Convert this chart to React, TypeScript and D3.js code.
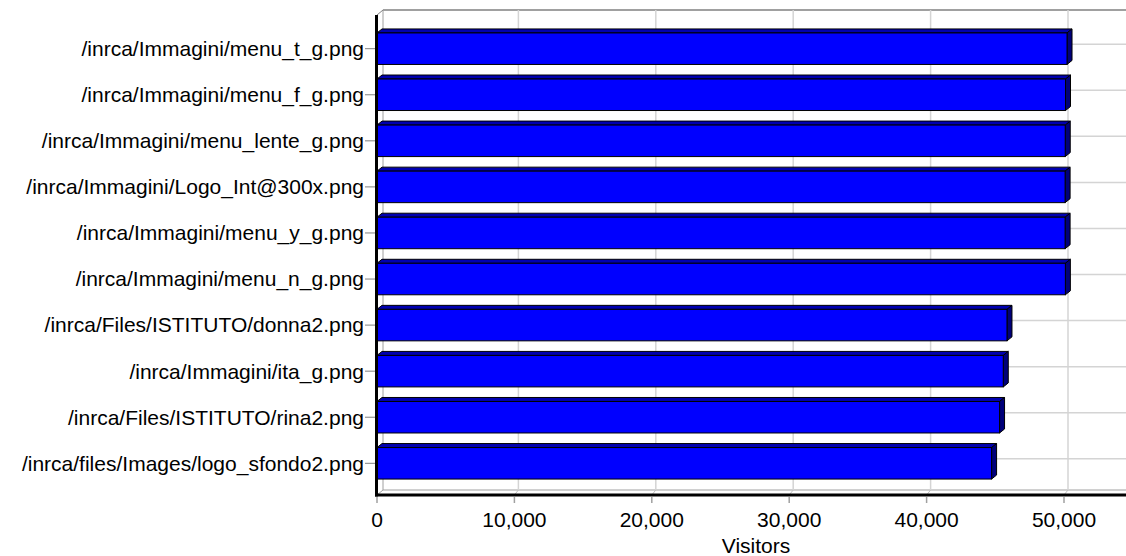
import React from "react";
import * as d3 from "d3";

const categories: string[] = [
  "/inrca/Immagini/menu_t_g.png",
  "/inrca/Immagini/menu_f_g.png",
  "/inrca/Immagini/menu_lente_g.png",
  "/inrca/Immagini/Logo_Int@300x.png",
  "/inrca/Immagini/menu_y_g.png",
  "/inrca/Immagini/menu_n_g.png",
  "/inrca/Files/ISTITUTO/donna2.png",
  "/inrca/Immagini/ita_g.png",
  "/inrca/Files/ISTITUTO/rina2.png",
  "/inrca/files/Images/logo_sfondo2.png",
];
const visitors: number[] = [50220, 50110, 50090, 50080, 50080, 50100, 45850, 45580, 45310, 44730];
const xTicks: number[] = [0, 10000, 20000, 30000, 40000, 50000];
const xTitle = "Visitors";

const W = 1126;
const H = 556;
const FONT = "Arial, 'Liberation Sans', sans-serif";

export default function App() {
  const x0 = 377;
  const x = d3.scaleLinear().domain([0, 50000]).range([x0, 1064]);
  const y = d3.scalePoint<string>().domain(categories).range([48.7, 463.3]).padding(0);
  const fmt = d3.format(",");

  const wallDx = 6, wallDy = 5;
  const wallTop = 10, axisY = 495;
  const backLeft = x0 + wallDx;
  const backBottom = axisY - wallDy;
  const gdx = 4, gdy = 4.5;
  const barH = 31.5, bdx = 5, bdy = 4;
  const fs = 21;

  return (
    <svg width={W} height={H} style={{ position: "absolute", left: 0, top: 0, background: "#fff" }} fontFamily={FONT}>
      {/* back wall */}
      <line x1={backLeft} y1={wallTop} x2={W} y2={wallTop} stroke="#808080" strokeWidth={1.5} />
      <line x1={backLeft} y1={wallTop} x2={backLeft} y2={backBottom} stroke="#a0a0a0" strokeWidth={1} />
      <line x1={backLeft} y1={backBottom} x2={W} y2={backBottom} stroke="#a0a0a0" strokeWidth={1} />
      <line x1={x0} y1={wallTop + wallDy} x2={backLeft} y2={wallTop} stroke="#808080" strokeWidth={1} />
      <line x1={x0} y1={axisY} x2={backLeft} y2={backBottom} stroke="#a0a0a0" strokeWidth={1} />
      {/* vertical grid */}
      {xTicks.filter((t) => t > 0).map((t) => (
        <g key={"vg" + t}>
          <line x1={x(t) + gdx} y1={wallTop} x2={x(t) + gdx} y2={backBottom} stroke="#d4d4d4" strokeWidth={1.5} />
          <line x1={x(t) + gdx} y1={backBottom} x2={x(t)} y2={axisY} stroke="#c0c0c0" strokeWidth={1} />
        </g>
      ))}
      {/* horizontal grid */}
      {categories.map((c) => (
        <line key={"hg" + c} x1={backLeft} y1={(y(c) as number) - gdy} x2={W} y2={(y(c) as number) - gdy} stroke="#d4d4d4" strokeWidth={1.5} />
      ))}
      {/* bars */}
      {categories.map((c, i) => {
        const cy = y(c) as number;
        const t = cy - barH / 2;
        const b = cy + barH / 2;
        const r = x(visitors[i]);
        return (
          <g key={"bar" + c} stroke="#000" strokeWidth={1}>
            <polygon points={`${x0},${t} ${r},${t} ${r + bdx},${t - bdy} ${x0 + bdx},${t - bdy}`} fill="#0000b0" />
            <polygon points={`${r},${t} ${r + bdx},${t - bdy} ${r + bdx},${b - bdy} ${r},${b}`} fill="#00007a" />
            <rect x={x0} y={t} width={r - x0} height={barH} fill="#0000ff" />
          </g>
        );
      })}
      {/* front axes */}
      <line x1={x0 - 0.5} y1={wallTop + wallDy} x2={x0 - 0.5} y2={axisY + 1.5} stroke="#000" strokeWidth={3} />
      <line x1={x0 - 2} y1={axisY} x2={W} y2={axisY} stroke="#000" strokeWidth={3} />
      {/* category ticks & labels */}
      {categories.map((c) => (
        <g key={"lab" + c}>
          <line x1={365} y1={y(c) as number} x2={375} y2={y(c) as number} stroke="#808080" strokeWidth={1} />
          <text x={364} y={y(c) as number} dy="0.35em" textAnchor="end" fontSize={fs} fill="#000">{c}</text>
        </g>
      ))}
      {/* x ticks & labels */}
      {xTicks.map((t) => (
        <g key={"xt" + t}>
          <line x1={x(t)} y1={497} x2={x(t)} y2={503} stroke="#a0a0a0" strokeWidth={1.5} />
          <text x={x(t)} y={527} textAnchor="middle" fontSize={fs} fill="#000">{fmt(t)}</text>
        </g>
      ))}
      <text x={756} y={553} textAnchor="middle" fontSize={fs} fill="#000">{xTitle}</text>
    </svg>
  );
}
